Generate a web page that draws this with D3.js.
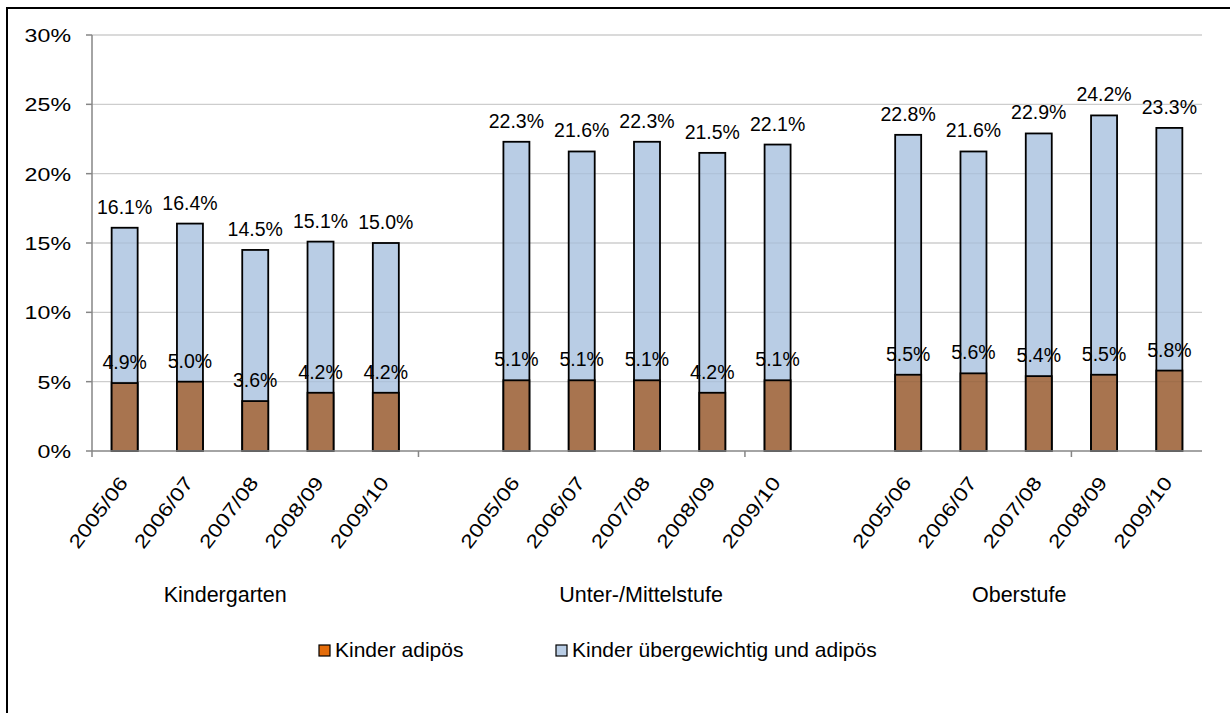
<!DOCTYPE html>
<html>
<head>
<meta charset="utf-8">
<script src="https://cdn.jsdelivr.net/npm/d3@7"></script>
<style>
  body { margin: 0; background: #fff; }
  svg text { font-family: "Liberation Sans", Arial, sans-serif; fill: #000; }
</style>
</head>
<body>
<div id="chart"></div>
<script>
// ==============================
// DATOS
// ==============================
const schuljahre = ["2005/06", "2006/07", "2007/08", "2008/09", "2009/10"];
const stufen = ["Kindergarten", "Unter-/Mittelstufe", "Oberstufe"];
const uebergewichtig = [16.1, 16.4, 14.5, 15.1, 15.0, 22.3, 21.6, 22.3, 21.5, 22.1, 22.8, 21.6, 22.9, 24.2, 23.3];
const adipoes = [4.9, 5.0, 3.6, 4.2, 4.2, 5.1, 5.1, 5.1, 4.2, 5.1, 5.5, 5.6, 5.4, 5.5, 5.8];
const yTicks = [0, 5, 10, 15, 20, 25, 30];
const serien = ["Kinder adipös", "Kinder übergewichtig und adipös"];

// ==============================
// LAYOUT
// ==============================
const width = 1230, height = 713;
const plot = { left: 92, right: 1202, top: 35, bottom: 451 };
const colBlue = "#B9CDE5", colBrown = "#A8744F", colOrange = "#E46C0A";
const axisColor = "#868686", gridColor = "#D9D9D9";
// Lage der Gruppenbeschriftung (in Kategorie-Einheiten, wie im Original)
const groupLabelAt = [2.04, 8.41, 14.2];

const svg = d3.select("#chart").append("svg")
  .attr("width", width)
  .attr("height", height);

// Rahmen (ragt rechts und unten über das Bild hinaus)
svg.append("rect")
  .attr("x", 7).attr("y", 8)
  .attr("width", 1400).attr("height", 900)
  .attr("fill", "none").attr("stroke", "#000").attr("stroke-width", 2);

// Slots: 5 Jahre je Stufe, dazwischen eine Leerkategorie
const slots = [];
const rows = [];
stufen.forEach((s, gi) => {
  schuljahre.forEach((j, ji) => {
    const key = s + "|" + j;
    slots.push(key);
    rows.push({ key, jahr: j, ueber: uebergewichtig[gi * 5 + ji], adip: adipoes[gi * 5 + ji] });
  });
  if (gi < stufen.length - 1) slots.push("leer" + gi);
});

const x = d3.scaleBand().domain(slots).range([plot.left, plot.right]).padding(0);
const y = d3.scaleLinear().domain([0, 30]).range([plot.bottom, plot.top]);
const barW = 26;

// Gitterlinien
svg.append("g").selectAll("line")
  .data(yTicks.filter(d => d > 0))
  .join("line")
  .attr("x1", plot.left).attr("x2", plot.right)
  .attr("y1", d => y(d)).attr("y2", d => y(d))
  .attr("stroke", gridColor).attr("stroke-width", 1.3);

// Balken
const bars = svg.append("g");
bars.selectAll("rect.ueber")
  .data(rows)
  .join("rect")
  .attr("class", "ueber")
  .attr("x", d => x(d.key) + x.bandwidth() / 2 - barW / 2)
  .attr("width", barW)
  .attr("y", d => y(d.ueber))
  .attr("height", d => y(0) - y(d.ueber))
  .attr("fill", colBlue).attr("stroke", "#000").attr("stroke-width", 1.8);

bars.selectAll("rect.adip")
  .data(rows)
  .join("rect")
  .attr("class", "adip")
  .attr("x", d => x(d.key) + x.bandwidth() / 2 - barW / 2)
  .attr("width", barW)
  .attr("y", d => y(d.adip))
  .attr("height", d => y(0) - y(d.adip))
  .attr("fill", colBrown).attr("stroke", "#000").attr("stroke-width", 1.8);

// Gitterlinien leicht über den Balken sichtbar
svg.append("g").selectAll("line")
  .data(yTicks.filter(d => d > 0))
  .join("line")
  .attr("x1", plot.left).attr("x2", plot.right)
  .attr("y1", d => y(d)).attr("y2", d => y(d))
  .attr("stroke", "#000").attr("stroke-opacity", 0.05).attr("stroke-width", 1.3);

// Y-Achse
const yAxis = svg.append("g");
yAxis.append("line")
  .attr("x1", plot.left).attr("x2", plot.left)
  .attr("y1", plot.top).attr("y2", plot.bottom)
  .attr("stroke", axisColor).attr("stroke-width", 1.5);
yAxis.selectAll("line.tick")
  .data(yTicks)
  .join("line")
  .attr("class", "tick")
  .attr("x1", plot.left - 6).attr("x2", plot.left)
  .attr("y1", d => y(d)).attr("y2", d => y(d))
  .attr("stroke", axisColor).attr("stroke-width", 1.5);
yAxis.selectAll("text")
  .data(yTicks)
  .join("text")
  .attr("transform", d => `translate(71,${y(d)}) scale(1.22,1)`)
  .attr("dy", "0.36em")
  .attr("text-anchor", "end")
  .style("font-size", "19px")
  .text(d => d + "%");

// X-Achse
const xAxis = svg.append("g");
xAxis.append("line")
  .attr("x1", plot.left).attr("x2", plot.right)
  .attr("y1", plot.bottom).attr("y2", plot.bottom)
  .attr("stroke", axisColor).attr("stroke-width", 1.5);
xAxis.selectAll("line.tick")
  .data([0, 5, 10, 15])
  .join("line")
  .attr("class", "tick")
  .attr("x1", d => plot.left + d * x.bandwidth())
  .attr("x2", d => plot.left + d * x.bandwidth())
  .attr("y1", plot.bottom).attr("y2", plot.bottom + 6)
  .attr("stroke", axisColor).attr("stroke-width", 1.5);
xAxis.selectAll("text.jahr")
  .data(rows)
  .join("text")
  .attr("class", "jahr")
  .attr("transform", d => `translate(${x(d.key) + x.bandwidth() / 2 + 4},483) rotate(-53) scale(1.22,1)`)
  .attr("text-anchor", "end")
  .style("font-size", "19px")
  .text(d => d.jahr);
xAxis.selectAll("text.stufe")
  .data(stufen)
  .join("text")
  .attr("class", "stufe")
  .attr("x", (d, i) => plot.left + groupLabelAt[i] * x.bandwidth())
  .attr("y", 602)
  .attr("text-anchor", "middle")
  .style("font-size", "21.5px")
  .text(d => d);

// Datenbeschriftungen
const labels = svg.append("g");
labels.selectAll("text.ueber")
  .data(rows)
  .join("text")
  .attr("x", d => x(d.key) + x.bandwidth() / 2)
  .attr("y", d => y(d.ueber) - 14)
  .attr("text-anchor", "middle")
  .style("font-size", "19.5px")
  .text(d => d.ueber.toFixed(1) + "%");
labels.selectAll("text.adip")
  .data(rows)
  .join("text")
  .attr("x", d => x(d.key) + x.bandwidth() / 2)
  .attr("y", d => y(d.adip) - 14)
  .attr("text-anchor", "middle")
  .style("font-size", "19.5px")
  .text(d => d.adip.toFixed(1) + "%");

// Legende
const legendX = [319, 556];
const legendCol = [colOrange, colBlue];
const legend = svg.append("g");
serien.forEach((s, i) => {
  legend.append("rect")
    .attr("x", legendX[i]).attr("y", 645)
    .attr("width", 11).attr("height", 11)
    .attr("fill", legendCol[i]).attr("stroke", "#000").attr("stroke-width", 1.2);
  legend.append("text")
    .attr("x", legendX[i] + 16).attr("y", 657)
    .style("font-size", "21px")
    .text(s);
});
</script>
</body>
</html>
